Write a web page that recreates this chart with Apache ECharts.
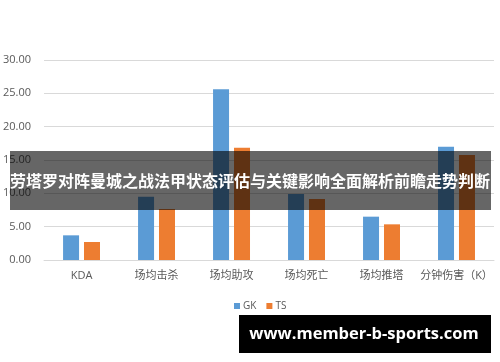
<!DOCTYPE html>
<html>
<head>
<meta charset="utf-8">
<script src="https://cdn.jsdelivr.net/npm/echarts@6/dist/echarts.min.js"></script>
<style>
html,body{margin:0;padding:0;background:#fff;}
#c{width:500px;height:362px;}
</style>
</head>
<body>
<div id="c"></div>
<script>
const categories = ['KDA', '场均击杀', '场均助攻', '场均死亡', '场均推塔', '分钟伤害（K）'];
const gkValues = [3.7, 9.5, 25.6, 9.9, 6.5, 17.0];
const tsValues = [2.7, 7.65, 16.85, 9.15, 5.35, 15.75];
const yTicks = [0, 5, 10, 15, 20, 25, 30];
const titleText = '劳塔罗对阵曼城之战法甲状态评估与关键影响全面解析前瞻走势判断';
const siteText = 'www.member-b-sports.com';

const chart = echarts.init(document.getElementById('c'), null, {renderer: 'canvas'});
chart.setOption({
  animation: false,
  backgroundColor: '#ffffff',
  textStyle: {fontFamily: '"Open Sans", "Noto Sans CJK SC", sans-serif'},
  grid: {left: 42, right: 6, top: 60, bottom: 102, containLabel: false},
  legend: {
    data: ['GK', 'TS'],
    left: 229, top: 296,
    itemWidth: 6, itemHeight: 6, itemGap: 10,
    icon: 'rect',
    textStyle: {color: '#595959', fontSize: 10, padding: [0, 0, 0, -2]}
  },
  xAxis: {
    type: 'category',
    data: categories,
    axisLine: {lineStyle: {color: '#d9d9d9'}},
    axisTick: {show: false},
    axisLabel: {color: '#595959', fontSize: 11, margin: 10, interval: 0,
      fontFamily: '"Open Sans", "Noto Sans CJK SC", sans-serif'}
  },
  yAxis: {
    type: 'value',
    min: 0, max: 30, interval: 5,
    axisLine: {show: false},
    axisTick: {show: false},
    splitLine: {lineStyle: {color: '#d9d9d9'}},
    axisLabel: {color: '#595959', fontSize: 11, margin: 13,
      formatter: v => yTicks.includes(v) ? v.toFixed(2) : ''}
  },
  series: [
    {name: 'GK', type: 'bar', data: gkValues, barWidth: 16, barGap: '31%',
     itemStyle: {color: '#5B9BD5'}},
    {name: 'TS', type: 'bar', data: tsValues, barWidth: 16,
     itemStyle: {color: '#ED7D31'}}
  ],
  graphic: [
    {type: 'rect', z: 100, shape: {x: 10, y: 151, width: 481, height: 59},
     style: {fill: 'rgba(0,0,0,0.6)'}},
    {type: 'text', z: 101, x: 250, y: 181,
     style: {text: titleText, fill: '#ffffff', fontSize: 16, fontWeight: 'bold',
       align: 'center', verticalAlign: 'middle',
       fontFamily: '"Noto Sans CJK SC", sans-serif'}},
    {type: 'rect', z: 100, shape: {x: 239, y: 315, width: 252, height: 38},
     style: {fill: '#000000'}},
    {type: 'text', z: 101, x: 364, y: 334,
     style: {text: siteText, fill: '#ffffff', fontSize: 16.5, fontWeight: 'bold',
       align: 'center', verticalAlign: 'middle',
       fontFamily: '"Open Sans", "DejaVu Sans", sans-serif'}}
  ]
});
</script>
</body>
</html>
